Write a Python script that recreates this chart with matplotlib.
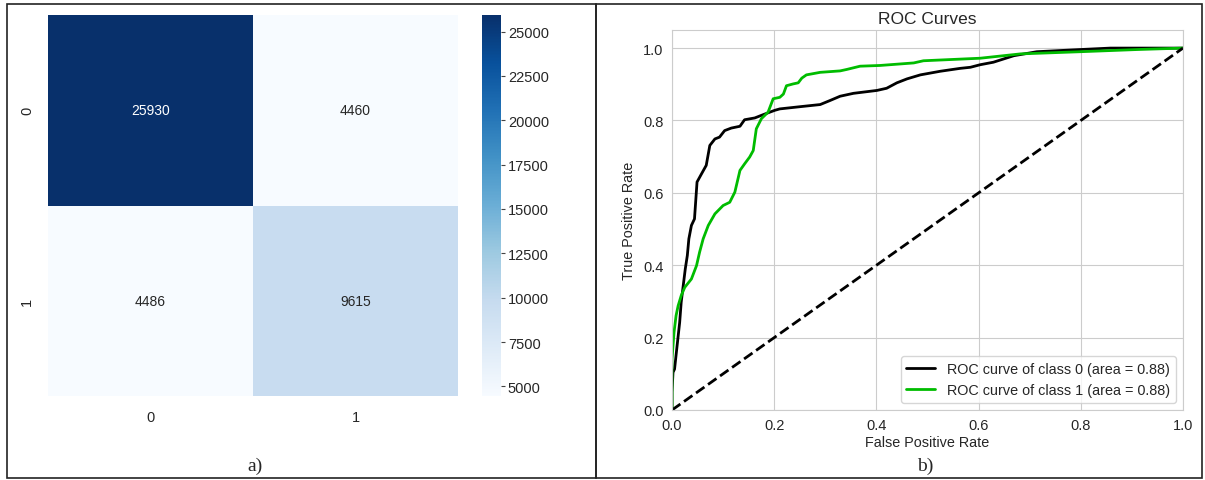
import numpy as np
import matplotlib
matplotlib.use("Agg")
import matplotlib.pyplot as plt
import seaborn as sns
from matplotlib.patches import Rectangle

# === data ===
class_labels = ["0", "1"]
conf_matrix = np.array([[25930, 4460],
                        [4486, 9615]])
cbar_ticks = [5000, 7500, 10000, 12500, 15000, 17500, 20000, 22500, 25000]

# ROC curve of class 0
fpr_0 = [0.0, 0.0, 0.002, 0.005, 0.010, 0.015, 0.018, 0.022, 0.026, 0.030, 0.033,
         0.038, 0.044, 0.049, 0.056, 0.067, 0.074, 0.084, 0.093, 0.103, 0.116,
         0.133, 0.142, 0.162, 0.182, 0.201, 0.211, 0.250, 0.290, 0.309, 0.329,
         0.355, 0.401, 0.420, 0.440, 0.460, 0.486, 0.525, 0.564, 0.584, 0.603,
         0.629, 0.649, 0.669, 0.714, 0.799, 0.858, 1.0]
tpr_0 = [0.0, 0.05, 0.104, 0.113, 0.178, 0.242, 0.298, 0.344, 0.390, 0.427, 0.473,
         0.510, 0.528, 0.630, 0.648, 0.676, 0.731, 0.749, 0.754, 0.772, 0.779,
         0.784, 0.802, 0.807, 0.818, 0.828, 0.832, 0.838, 0.844, 0.855, 0.867,
         0.875, 0.883, 0.889, 0.904, 0.915, 0.926, 0.936, 0.944, 0.947, 0.954,
         0.961, 0.970, 0.979, 0.990, 0.996, 1.0, 1.0]

# ROC curve of class 1
fpr_1 = [0.0, 0.0, 0.004, 0.008, 0.012, 0.018, 0.025, 0.038, 0.048, 0.054, 0.061,
         0.071, 0.084, 0.100, 0.113, 0.123, 0.133, 0.142, 0.152, 0.159, 0.165,
         0.175, 0.188, 0.198, 0.211, 0.218, 0.224, 0.237, 0.247, 0.254, 0.263,
         0.290, 0.329, 0.342, 0.368, 0.407, 0.473, 0.492, 0.603, 0.649, 0.682,
         0.799, 0.910, 1.0]
tpr_1 = [0.0, 0.141, 0.215, 0.261, 0.288, 0.316, 0.339, 0.362, 0.399, 0.436, 0.473,
         0.510, 0.542, 0.565, 0.574, 0.602, 0.662, 0.680, 0.699, 0.717, 0.777,
         0.805, 0.823, 0.860, 0.864, 0.873, 0.896, 0.901, 0.904, 0.917, 0.926,
         0.933, 0.937, 0.941, 0.950, 0.952, 0.959, 0.965, 0.972, 0.979, 0.984,
         0.990, 0.996, 1.0]

roc_auc = [0.88, 0.88]

# === style ===
sns.set_style("whitegrid")
plt.rcParams['font.family'] = ['Liberation Sans', 'DejaVu Sans']
plt.rcParams['font.size'] = 10.5

W, H = 1205, 481
fig = plt.figure(figsize=(W / 100, H / 100), dpi=100)


def box(x0, y0, x1, y1):
    # pixel coords -> figure fraction
    return [x0 / W, 1 - y1 / H, (x1 - x0) / W, (y1 - y0) / H]


# === a) confusion matrix ===
ax_hm = fig.add_axes(box(48, 16, 458, 397))
ax_cb = fig.add_axes(box(482, 16, 501, 397))
sns.heatmap(conf_matrix, annot=True, fmt="d", cmap="Blues", ax=ax_hm,
            cbar_ax=ax_cb, xticklabels=class_labels, yticklabels=class_labels,
            annot_kws={"fontsize": 10})
ax_hm.tick_params(length=0, labelsize=10.5, pad=10)
ax_hm.set_yticklabels(class_labels, rotation=90, va="center")
ax_cb.set_yticks(cbar_ticks)
ax_cb.tick_params(length=3, width=0.8, labelsize=10.5, pad=2, color="#444444")

# === b) ROC curves ===
ax_roc = fig.add_axes(box(672, 31, 1183, 411))
cmap = plt.get_cmap("nipy_spectral")
ax_roc.plot(fpr_0, tpr_0, lw=2, color=cmap(0.0),
            label="ROC curve of class {0} (area = {1:0.2f})".format(0, roc_auc[0]))
ax_roc.plot(fpr_1, tpr_1, lw=2, color=cmap(0.5),
            label="ROC curve of class {0} (area = {1:0.2f})".format(1, roc_auc[1]))
ax_roc.plot([0, 1], [0, 1], "k--", lw=2)
ax_roc.set_xlim([0.0, 1.0])
ax_roc.set_ylim([0.0, 1.05])
ax_roc.set_title("ROC Curves", fontsize=12.5, pad=5)
ax_roc.set_xlabel("False Positive Rate", fontsize=10.4, labelpad=2)
ax_roc.set_ylabel("True Positive Rate", fontsize=10.4, labelpad=5)
ax_roc.tick_params(labelsize=10.5, length=0, pad=6)
ax_roc.legend(loc="lower right", fontsize=10.4)

# captions
fig.text(255 / W, 1 - 466 / H, "a)", family="Liberation Serif", fontsize=14,
         ha="center", va="center")
fig.text(925 / W, 1 - 466 / H, "b)", family="Liberation Serif", fontsize=14,
         ha="center", va="center")

# panel frames
fig.patches.append(Rectangle((7 / W, 1 - 479 / H), 589 / W, 474 / H,
                             transform=fig.transFigure, fill=False,
                             edgecolor="#222222", lw=1.2))
fig.patches.append(Rectangle((596 / W, 1 - 479 / H), 606 / W, 474 / H,
                             transform=fig.transFigure, fill=False,
                             edgecolor="#222222", lw=1.2))

fig.savefig("out.png", dpi=100)
